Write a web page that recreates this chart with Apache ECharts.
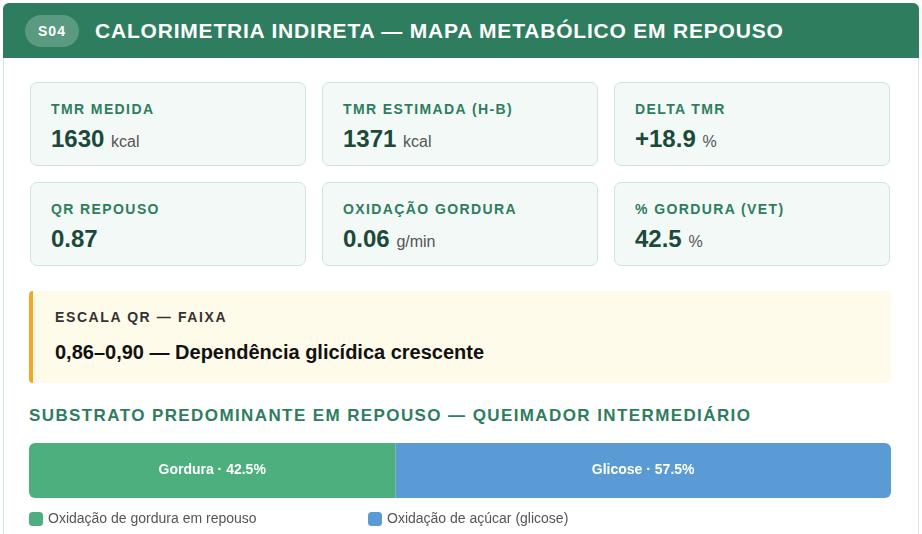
<!DOCTYPE html>
<html><head><meta charset="utf-8">
<script src="https://cdn.jsdelivr.net/npm/echarts@6/dist/echarts.min.js"></script>
<style>
body{margin:0;background:#fff;font-family:"Liberation Sans",Arial,sans-serif;width:922px;height:534px;overflow:hidden}
.wrap{position:absolute;left:3px;top:3px;width:914px;height:540px;border:1px solid #d6e9e0;border-radius:6px 6px 0 0}
.hdr{position:absolute;left:3px;top:3px;width:916px;height:55px;background:#2e7d5e;border-radius:6px 6px 0 0}
.badge{position:absolute;left:22px;top:12px;width:54px;height:32px;border-radius:16px;background:#5a9a80;color:#fff;font-weight:bold;font-size:14px;line-height:32px;text-align:center;letter-spacing:1px}
.ttl{position:absolute;left:92px;top:16px;color:#fff;font-weight:bold;font-size:21px;letter-spacing:0.8px}
.card{position:absolute;width:276px;height:84px;background:#f3f9f7;border:1px solid #cfe6dc;border-radius:7px;box-sizing:border-box}
.card .l{position:absolute;left:20px;top:18px;color:#2e7d5e;font-weight:bold;font-size:14px;letter-spacing:1.4px}
.card .v{position:absolute;left:20px;top:42px;color:#1b4a3a;font-weight:bold;font-size:24px}
.card .v span{font-weight:normal;font-size:16px;color:#555}
.q{position:absolute;left:29px;top:291px;width:862px;height:92px;background:#fefbea;border-left:4px solid #f5a623;border-radius:4px;box-sizing:border-box}
.q .l{position:absolute;left:22px;top:18px;font-weight:bold;font-size:14px;letter-spacing:1.6px;color:#333}
.q .v{position:absolute;left:22px;top:50px;font-weight:bold;font-size:20px;color:#111}
.sec{position:absolute;left:29px;top:406px;color:#2e7d5e;font-weight:bold;font-size:17px;letter-spacing:1.4px}
#c{position:absolute;left:29px;top:436px;width:866px;height:98px}
</style></head><body>
<div class="wrap"></div>
<div class="hdr"><div class="badge">S04</div><div class="ttl">CALORIMETRIA INDIRETA — MAPA METABÓLICO EM REPOUSO</div></div>
<div id="cards"></div>
<div class="q"><div class="l">ESCALA QR — FAIXA</div><div class="v">0,86–0,90 — Dependência glicídica crescente</div></div>
<div class="sec">SUBSTRATO PREDOMINANTE EM REPOUSO — QUEIMADOR INTERMEDIÁRIO</div>
<div id="c"></div>
<script>
var cardLabels = ['TMR MEDIDA', 'TMR ESTIMADA (H-B)', 'DELTA TMR', 'QR REPOUSO', 'OXIDAÇÃO GORDURA', '% GORDURA (VET)'];
var cardValues = ['1630', '1371', '+18.9', '0.87', '0.06', '42.5'];
var cardUnits = ['kcal', 'kcal', '%', '', 'g/min', '%'];
var seriesNames = ['Gordura', 'Glicose'];
var legendNames = ['Oxidação de gordura em repouso', 'Oxidação de açúcar (glicose)'];
var seriesValues = [42.5, 57.5];
var colors = ['#4caf7d', '#5b9bd5'];

var xs = [30, 322, 614], ys = [82, 182];
var html = '';
cardLabels.forEach(function (l, i) {
    html += '<div class="card" style="left:' + xs[i % 3] + 'px;top:' + ys[Math.floor(i / 3)] + 'px"><div class="l">' + l +
        '</div><div class="v">' + cardValues[i] + (cardUnits[i] ? ' <span>' + cardUnits[i] + '</span>' : '') + '</div></div>';
});
document.getElementById('cards').innerHTML = html;

var myChart = echarts.init(document.getElementById('c'));
myChart.setOption({
    animation: false,
    grid: {left: 0, right: 4, top: 7, height: 55},
    xAxis: {type: 'value', min: 0, max: 100, show: false},
    yAxis: {type: 'category', data: ['s'], show: false},
    legend: [
        {data: [legendNames[0]], left: 0, top: 76, padding: 0, itemWidth: 14, itemHeight: 14, icon: 'roundRect', textStyle: {color: '#555', fontSize: 14}},
        {data: [legendNames[1]], left: 339, top: 76, padding: 0, itemWidth: 14, itemHeight: 14, icon: 'roundRect', textStyle: {color: '#555', fontSize: 14}}
    ],
    series: seriesValues.map(function (v, i) {
        return {
            name: legendNames[i], type: 'bar', stack: 'a', barWidth: 55, data: [v],
            itemStyle: {color: colors[i], borderRadius: i === 0 ? [6, 0, 0, 6] : [0, 6, 6, 0]},
            label: {show: true, position: 'inside', color: '#fff', fontWeight: 'bold', fontSize: 14,
                formatter: seriesNames[i] + ' · ' + v + '%'}
        };
    })
});
</script>
</body></html>
